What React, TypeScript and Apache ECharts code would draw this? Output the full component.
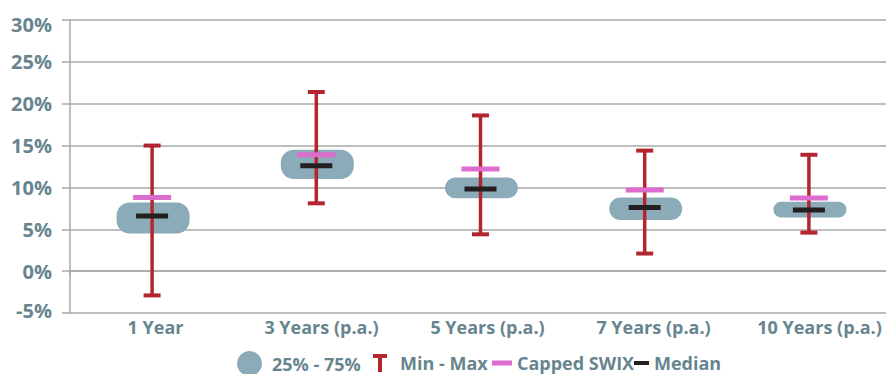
import React, { useEffect, useRef } from "react";
import * as echarts from "echarts";

const categories = ["1 Year", "3 Years (p.a.)", "5 Years (p.a.)", "7 Years (p.a.)", "10 Years (p.a.)"];
const minVals = [-2.9, 8.1, 4.4, 2.1, 4.6];
const maxVals = [15.0, 21.4, 18.6, 14.4, 13.9];
const q1Vals = [4.5, 11.0, 8.7, 6.1, 6.4];
const q3Vals = [8.2, 14.5, 11.2, 8.8, 8.3];
const medianVals = [6.6, 12.6, 9.8, 7.6, 7.3];
const cappedVals = [8.8, 13.9, 12.2, 9.7, 8.75];

const TEXT = "#67858F";
const GRID = "#A8A8A8";
const BOX = "#8AABB7";
const RED = "#B3252F";
const PINK = "#DC6DCF";
const BLACK = "#231F20";
const FONT = "'Open Sans', sans-serif";

export default function App() {
  const ref = useRef<HTMLDivElement>(null);
  useEffect(() => {
    const chart = echarts.init(ref.current!, null, { renderer: "svg" });
    const legendBase = {
      orient: "horizontal",
      top: 354,
      padding: 0,
      selectedMode: false,
      textStyle: { color: TEXT, fontSize: 18, fontWeight: "bold", fontFamily: FONT },
    };
    chart.setOption({
      animation: false,
      grid: [
        { left: 70, right: 19, top: 20, bottom: 61, containLabel: false },
        { left: 72.5, right: 7.5, top: 20, bottom: 61, containLabel: false },
      ],
      legend: [
        {
          ...legendBase,
          left: 237,
          top: 351,
          data: [{ name: "25% - 75%", icon: "circle" }],
          itemWidth: 25,
          itemHeight: 25,
          textStyle: { ...legendBase.textStyle, padding: [0, 0, 0, 5] },
        },
        {
          ...legendBase,
          left: 373,
          data: [{ name: "Min - Max", icon: "path://M0,0 H14 V4 H9 V18 H5 V4 H0 Z" }],
          itemWidth: 14,
          itemHeight: 18,
          textStyle: { ...legendBase.textStyle, padding: [0, 0, 0, 8] },
        },
        {
          ...legendBase,
          left: 492,
          data: [{ name: "Capped SWIX", icon: "rect" }],
          itemWidth: 20,
          itemHeight: 5,
        },
        {
          ...legendBase,
          left: 634,
          data: [{ name: "Median", icon: "rect" }],
          itemWidth: 15,
          itemHeight: 4,
        },
      ],
      xAxis: [
        {
          type: "category",
          gridIndex: 0,
          data: categories,
          boundaryGap: true,
          axisLine: { show: true, lineStyle: { color: GRID, width: 1.5 } },
          axisTick: { show: true, interval: (i: number) => i === 0, length: 5, lineStyle: { color: GRID, width: 1.5 } },
          axisLabel: { show: false },
        },
        {
          type: "category",
          gridIndex: 1,
          data: categories,
          boundaryGap: true,
          axisLine: { show: false },
          axisTick: { show: false },
          axisLabel: { show: true, interval: 0, margin: 5, color: TEXT, fontSize: 18, fontWeight: "bold", fontFamily: FONT },
        },
      ],
      yAxis: [
        {
          type: "value",
          gridIndex: 0,
          min: -5,
          max: 30,
          interval: 5,
          axisLine: { show: true, lineStyle: { color: GRID, width: 1.5 } },
          axisTick: { show: true, length: 8, lineStyle: { color: GRID, width: 1.5 } },
          splitLine: { show: true, lineStyle: { color: GRID, width: 1.5 } },
          axisLabel: {
            margin: 18,
            color: TEXT,
            fontSize: 20,
            fontWeight: "bold",
            fontFamily: FONT,
            formatter: (v: number) => (v === 30 ? `{t|${v}%}` : v === -5 ? `{b|${v}%}` : `${v}%`),
            rich: {
              t: { padding: [8, 0, 0, 0], color: TEXT, fontSize: 20, fontWeight: "bold", fontFamily: FONT },
              b: { padding: [0, 0, 6, 0], color: TEXT, fontSize: 20, fontWeight: "bold", fontFamily: FONT },
            },
          },
        },
        { type: "value", gridIndex: 1, min: -5, max: 30, show: false },
      ],
      series: [
        {
          name: "25% - 75%",
          type: "custom",
          xAxisIndex: 0,
          yAxisIndex: 0,
          z: 1,
          itemStyle: { color: BOX },
          encode: { x: 0, y: [1, 2] },
          data: categories.map((_, i) => [i, q1Vals[i], q3Vals[i]]),
          renderItem: (params: any, api: any) => {
            const lo = api.coord([api.value(0), api.value(1)]);
            const hi = api.coord([api.value(0), api.value(2)]);
            const w = 73;
            const h = lo[1] - hi[1];
            const r = Math.min(13, h / 2);
            return {
              type: "rect",
              shape: { x: lo[0] - w / 2 + 1, y: hi[1], width: w, height: h, r },
              style: { fill: BOX },
            };
          },
        },
        {
          name: "Min - Max",
          type: "custom",
          xAxisIndex: 0,
          yAxisIndex: 0,
          z: 2,
          itemStyle: { color: RED },
          encode: { x: 0, y: [1, 2] },
          data: categories.map((_, i) => [i, minVals[i], maxVals[i]]),
          renderItem: (params: any, api: any) => {
            const lo = api.coord([api.value(0), api.value(1)]);
            const hi = api.coord([api.value(0), api.value(2)]);
            const cw = 17;
            const ch = 4;
            return {
              type: "group",
              children: [
                {
                  type: "line",
                  shape: { x1: lo[0], y1: lo[1], x2: hi[0], y2: hi[1] },
                  style: { stroke: RED, lineWidth: 3.5 },
                },
                { type: "rect", shape: { x: hi[0] - cw / 2, y: hi[1] - ch / 2, width: cw, height: ch }, style: { fill: RED } },
                { type: "rect", shape: { x: lo[0] - cw / 2, y: lo[1] - ch / 2, width: cw, height: ch }, style: { fill: RED } },
              ],
            };
          },
        },
        {
          name: "Capped SWIX",
          type: "scatter",
          xAxisIndex: 0,
          yAxisIndex: 0,
          z: 3,
          symbol: "rect",
          symbolSize: [38, 5],
          itemStyle: { color: PINK, opacity: 1 },
          data: categories.map((_, i) => [i, cappedVals[i]]),
        },
        {
          name: "Median",
          type: "scatter",
          xAxisIndex: 0,
          yAxisIndex: 0,
          z: 4,
          symbol: "rect",
          symbolSize: [32, 5],
          itemStyle: { color: BLACK, opacity: 1 },
          data: categories.map((_, i) => [i, medianVals[i]]),
        },
      ],
    });
    return () => chart.dispose();
  }, []);
  return (
    <div style={{ position: "absolute", left: 0, top: 0, width: 886, height: 374, overflow: "hidden", background: "#fff" }}>
      <div ref={ref} style={{ width: 910, height: 374 }} />
    </div>
  );
}
